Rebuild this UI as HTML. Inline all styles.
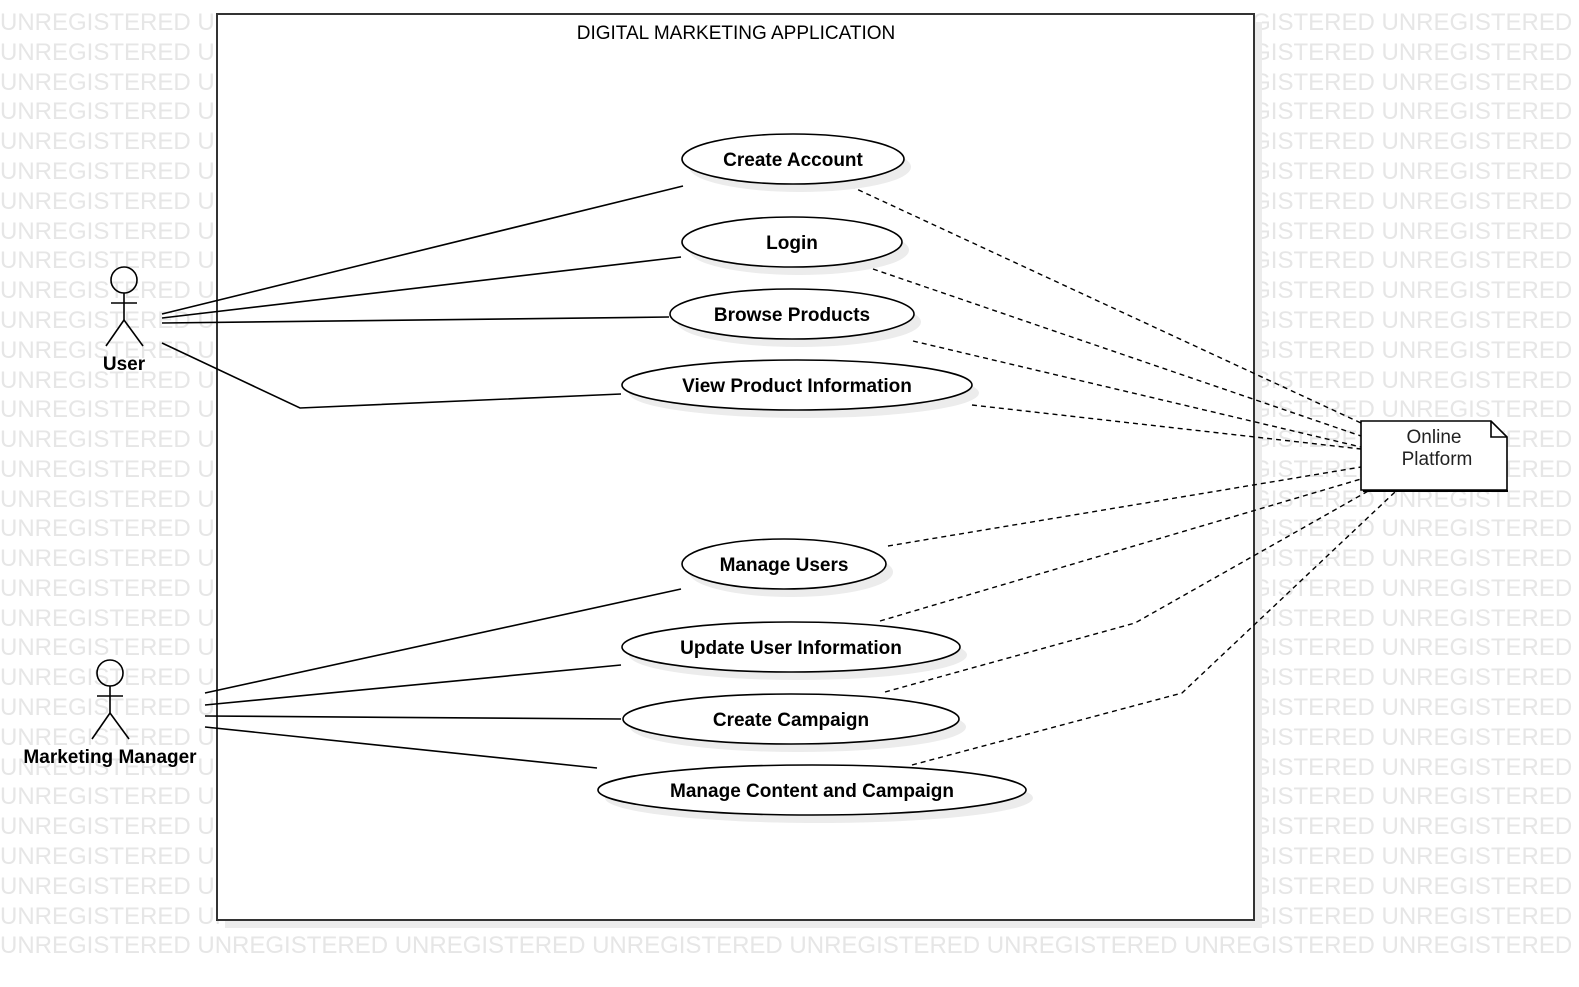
<!DOCTYPE html>
<html><head><meta charset="utf-8"><style>
html,body{margin:0;padding:0;background:#fff;}
svg{display:block;font-family:"Liberation Sans",Arial,sans-serif;}
</style></head><body>
<svg width="1579" height="987" viewBox="0 0 1579 987" xmlns="http://www.w3.org/2000/svg">
<g fill="#e6e6e6" font-size="24" id="wm">
<text x="0" y="30">UNREGISTERED UNREGISTERED UNREGISTERED UNREGISTERED UNREGISTERED UNREGISTERED UNREGISTERED UNREGISTERED</text>
<text x="0" y="60">UNREGISTERED UNREGISTERED UNREGISTERED UNREGISTERED UNREGISTERED UNREGISTERED UNREGISTERED UNREGISTERED</text>
<text x="0" y="90">UNREGISTERED UNREGISTERED UNREGISTERED UNREGISTERED UNREGISTERED UNREGISTERED UNREGISTERED UNREGISTERED</text>
<text x="0" y="119">UNREGISTERED UNREGISTERED UNREGISTERED UNREGISTERED UNREGISTERED UNREGISTERED UNREGISTERED UNREGISTERED</text>
<text x="0" y="149">UNREGISTERED UNREGISTERED UNREGISTERED UNREGISTERED UNREGISTERED UNREGISTERED UNREGISTERED UNREGISTERED</text>
<text x="0" y="179">UNREGISTERED UNREGISTERED UNREGISTERED UNREGISTERED UNREGISTERED UNREGISTERED UNREGISTERED UNREGISTERED</text>
<text x="0" y="209">UNREGISTERED UNREGISTERED UNREGISTERED UNREGISTERED UNREGISTERED UNREGISTERED UNREGISTERED UNREGISTERED</text>
<text x="0" y="239">UNREGISTERED UNREGISTERED UNREGISTERED UNREGISTERED UNREGISTERED UNREGISTERED UNREGISTERED UNREGISTERED</text>
<text x="0" y="268">UNREGISTERED UNREGISTERED UNREGISTERED UNREGISTERED UNREGISTERED UNREGISTERED UNREGISTERED UNREGISTERED</text>
<text x="0" y="298">UNREGISTERED UNREGISTERED UNREGISTERED UNREGISTERED UNREGISTERED UNREGISTERED UNREGISTERED UNREGISTERED</text>
<text x="0" y="328">UNREGISTERED UNREGISTERED UNREGISTERED UNREGISTERED UNREGISTERED UNREGISTERED UNREGISTERED UNREGISTERED</text>
<text x="0" y="358">UNREGISTERED UNREGISTERED UNREGISTERED UNREGISTERED UNREGISTERED UNREGISTERED UNREGISTERED UNREGISTERED</text>
<text x="0" y="388">UNREGISTERED UNREGISTERED UNREGISTERED UNREGISTERED UNREGISTERED UNREGISTERED UNREGISTERED UNREGISTERED</text>
<text x="0" y="417">UNREGISTERED UNREGISTERED UNREGISTERED UNREGISTERED UNREGISTERED UNREGISTERED UNREGISTERED UNREGISTERED</text>
<text x="0" y="447">UNREGISTERED UNREGISTERED UNREGISTERED UNREGISTERED UNREGISTERED UNREGISTERED UNREGISTERED UNREGISTERED</text>
<text x="0" y="477">UNREGISTERED UNREGISTERED UNREGISTERED UNREGISTERED UNREGISTERED UNREGISTERED UNREGISTERED UNREGISTERED</text>
<text x="0" y="507">UNREGISTERED UNREGISTERED UNREGISTERED UNREGISTERED UNREGISTERED UNREGISTERED UNREGISTERED UNREGISTERED</text>
<text x="0" y="536">UNREGISTERED UNREGISTERED UNREGISTERED UNREGISTERED UNREGISTERED UNREGISTERED UNREGISTERED UNREGISTERED</text>
<text x="0" y="566">UNREGISTERED UNREGISTERED UNREGISTERED UNREGISTERED UNREGISTERED UNREGISTERED UNREGISTERED UNREGISTERED</text>
<text x="0" y="596">UNREGISTERED UNREGISTERED UNREGISTERED UNREGISTERED UNREGISTERED UNREGISTERED UNREGISTERED UNREGISTERED</text>
<text x="0" y="626">UNREGISTERED UNREGISTERED UNREGISTERED UNREGISTERED UNREGISTERED UNREGISTERED UNREGISTERED UNREGISTERED</text>
<text x="0" y="655">UNREGISTERED UNREGISTERED UNREGISTERED UNREGISTERED UNREGISTERED UNREGISTERED UNREGISTERED UNREGISTERED</text>
<text x="0" y="685">UNREGISTERED UNREGISTERED UNREGISTERED UNREGISTERED UNREGISTERED UNREGISTERED UNREGISTERED UNREGISTERED</text>
<text x="0" y="715">UNREGISTERED UNREGISTERED UNREGISTERED UNREGISTERED UNREGISTERED UNREGISTERED UNREGISTERED UNREGISTERED</text>
<text x="0" y="745">UNREGISTERED UNREGISTERED UNREGISTERED UNREGISTERED UNREGISTERED UNREGISTERED UNREGISTERED UNREGISTERED</text>
<text x="0" y="775">UNREGISTERED UNREGISTERED UNREGISTERED UNREGISTERED UNREGISTERED UNREGISTERED UNREGISTERED UNREGISTERED</text>
<text x="0" y="804">UNREGISTERED UNREGISTERED UNREGISTERED UNREGISTERED UNREGISTERED UNREGISTERED UNREGISTERED UNREGISTERED</text>
<text x="0" y="834">UNREGISTERED UNREGISTERED UNREGISTERED UNREGISTERED UNREGISTERED UNREGISTERED UNREGISTERED UNREGISTERED</text>
<text x="0" y="864">UNREGISTERED UNREGISTERED UNREGISTERED UNREGISTERED UNREGISTERED UNREGISTERED UNREGISTERED UNREGISTERED</text>
<text x="0" y="894">UNREGISTERED UNREGISTERED UNREGISTERED UNREGISTERED UNREGISTERED UNREGISTERED UNREGISTERED UNREGISTERED</text>
<text x="0" y="924">UNREGISTERED UNREGISTERED UNREGISTERED UNREGISTERED UNREGISTERED UNREGISTERED UNREGISTERED UNREGISTERED</text>
<text x="0" y="953">UNREGISTERED UNREGISTERED UNREGISTERED UNREGISTERED UNREGISTERED UNREGISTERED UNREGISTERED UNREGISTERED</text>
</g>
<!-- system boundary -->
<rect x="225" y="22" width="1037" height="906" fill="#ececec"/>
<rect x="217" y="14" width="1037" height="906" fill="#fff" stroke="#333" stroke-width="2"/>
<text x="736" y="39" font-size="19" text-anchor="middle" fill="#000">DIGITAL MARKETING APPLICATION</text>

<!-- solid associations -->
<g stroke="#000" stroke-width="1.6" fill="none">
<line x1="162" y1="314" x2="683" y2="186"/>
<line x1="162" y1="318" x2="681" y2="257"/>
<line x1="162" y1="323" x2="669" y2="317"/>
<polyline points="162,343 300,408 621,394"/>
<line x1="205" y1="693" x2="681" y2="589"/>
<line x1="205" y1="705" x2="621" y2="665"/>
<line x1="205" y1="716" x2="621" y2="719"/>
<line x1="205" y1="727" x2="597" y2="768"/>
</g>
<!-- dashed -->
<g stroke="#000" stroke-width="1.4" fill="none" stroke-dasharray="5,4">
<line x1="850" y1="186" x2="1361" y2="423"/>
<line x1="873" y1="269" x2="1361" y2="436"/>
<line x1="913" y1="341" x2="1361" y2="447"/>
<line x1="972" y1="405" x2="1361" y2="449"/>
<line x1="888" y1="546" x2="1361" y2="467"/>
<line x1="880" y1="621" x2="1361" y2="479"/>
<polyline points="885,692 1135,623 1370,490"/>
<polyline points="912,765 1182,693 1395,492"/>
</g>

<!-- use cases -->
<g font-size="19" font-weight="bold" text-anchor="middle" fill="#000">
<ellipse cx="800" cy="167" rx="111" ry="25" fill="#ececec"/>
<ellipse cx="793" cy="159" rx="111" ry="25" fill="#fff" stroke="#000" stroke-width="1.6"/>
<text x="793" y="166">Create Account</text>
<ellipse cx="799" cy="250" rx="110" ry="25" fill="#ececec"/>
<ellipse cx="792" cy="242" rx="110" ry="25" fill="#fff" stroke="#000" stroke-width="1.6"/>
<text x="792" y="249">Login</text>
<ellipse cx="799" cy="322" rx="122" ry="25" fill="#ececec"/>
<ellipse cx="792" cy="314" rx="122" ry="25" fill="#fff" stroke="#000" stroke-width="1.6"/>
<text x="792" y="321">Browse Products</text>
<ellipse cx="804" cy="393" rx="175" ry="25" fill="#ececec"/>
<ellipse cx="797" cy="385" rx="175" ry="25" fill="#fff" stroke="#000" stroke-width="1.6"/>
<text x="797" y="392">View Product Information</text>
<ellipse cx="791" cy="572" rx="102" ry="25" fill="#ececec"/>
<ellipse cx="784" cy="564" rx="102" ry="25" fill="#fff" stroke="#000" stroke-width="1.6"/>
<text x="784" y="571">Manage Users</text>
<ellipse cx="798" cy="655" rx="169" ry="25" fill="#ececec"/>
<ellipse cx="791" cy="647" rx="169" ry="25" fill="#fff" stroke="#000" stroke-width="1.6"/>
<text x="791" y="654">Update User Information</text>
<ellipse cx="798" cy="727" rx="168" ry="25" fill="#ececec"/>
<ellipse cx="791" cy="719" rx="168" ry="25" fill="#fff" stroke="#000" stroke-width="1.6"/>
<text x="791" y="726">Create Campaign</text>
<ellipse cx="819" cy="798" rx="214" ry="25" fill="#ececec"/>
<ellipse cx="812" cy="790" rx="214" ry="25" fill="#fff" stroke="#000" stroke-width="1.6"/>
<text x="812" y="797">Manage Content and Campaign</text>
</g>

<!-- actors -->
<g stroke="#000" stroke-width="1.6" fill="none">
<circle cx="124" cy="280" r="13"/>
<line x1="124" y1="293" x2="124" y2="320"/>
<line x1="111" y1="303" x2="137" y2="303"/>
<line x1="124" y1="320" x2="106" y2="346"/>
<line x1="124" y1="320" x2="143" y2="346"/>
<circle cx="110" cy="673" r="13"/>
<line x1="110" y1="686" x2="110" y2="713"/>
<line x1="97" y1="696" x2="123" y2="696"/>
<line x1="110" y1="713" x2="92" y2="739"/>
<line x1="110" y1="713" x2="129" y2="739"/>
</g>
<g font-size="19" font-weight="bold" text-anchor="middle" fill="#000">
<text x="124" y="370">User</text>
<text x="110" y="763">Marketing Manager</text>
</g>

<!-- note -->
<path d="M1361,421 H1491 L1507,437 V490 H1361 Z" fill="#fff" stroke="#000" stroke-width="1.6"/>
<path d="M1491,421 V437 H1507" fill="none" stroke="#000" stroke-width="1.6"/>
<line x1="1363" y1="491" x2="1508" y2="491" stroke="#000" stroke-width="2"/>
<text x="1434" y="443" font-size="19" text-anchor="middle" fill="#222">Online</text>
<text x="1437" y="465" font-size="19" text-anchor="middle" fill="#222">Platform</text>
</svg>
</body></html>
